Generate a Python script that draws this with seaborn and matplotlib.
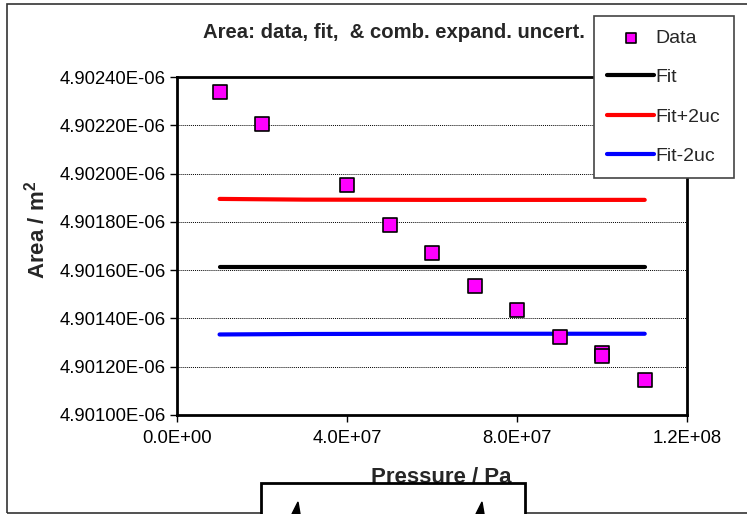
import matplotlib
matplotlib.use("Agg")
import matplotlib.pyplot as plt
import seaborn as sns
import pandas as pd
from matplotlib.patches import Rectangle, Polygon
from matplotlib.ticker import FuncFormatter, MultipleLocator

# data
pressure = [1e7, 2e7, 4e7, 5e7, 6e7, 7e7, 8e7, 9e7, 1e8, 1e8, 1.1e8]
area = [4.902338e-06, 4.902205e-06, 4.901953e-06, 4.901787e-06, 4.901671e-06,
        4.901535e-06, 4.901435e-06, 4.901323e-06, 4.901255e-06, 4.901243e-06,
        4.901145e-06]

fit_pressure = [1e7, 3e7, 6e7, 1.1e8]
fit = [4.901613e-06, 4.901613e-06, 4.901613e-06, 4.901613e-06]
fit_plus = [4.901895e-06, 4.901892e-06, 4.901891e-06, 4.901891e-06]
fit_minus = [4.901333e-06, 4.901335e-06, 4.901336e-06, 4.901336e-06]

sns.set_style("white")
plt.rcParams["font.family"] = ["Liberation Sans", "DejaVu Sans"]
plt.rcParams["mathtext.default"] = "regular"

fig = plt.figure(figsize=(7.47, 5.14), dpi=100)
ax = fig.add_axes([0.237, 0.193, 0.683, 0.657])

df_fit = pd.DataFrame({"p": fit_pressure, "fit": fit, "plus": fit_plus, "minus": fit_minus})
df_data = pd.DataFrame({"p": pressure, "area": area})

sns.scatterplot(data=df_data, x="p", y="area", marker="s", s=110, color="#FF00FF",
                edgecolor="black", linewidth=1.2, ax=ax, label="Data", zorder=5)
line_kw = dict(lw=3, ax=ax, solid_capstyle="round")
sns.lineplot(data=df_fit, x="p", y="fit", color="black", label="Fit", **line_kw)
sns.lineplot(data=df_fit, x="p", y="plus", color="#FF0000", label="Fit+2uc", **line_kw)
sns.lineplot(data=df_fit, x="p", y="minus", color="#0000FF", label="Fit-2uc", **line_kw)

ax.set_xlim(0, 1.2e8)
ax.set_ylim(4.901e-06, 4.9024e-06)
ax.xaxis.set_major_locator(MultipleLocator(4e7))
ax.yaxis.set_major_locator(MultipleLocator(2e-10))
ax.xaxis.set_major_formatter(FuncFormatter(lambda v, p: f"{v:.1E}"))
ax.yaxis.set_major_formatter(FuncFormatter(lambda v, p: f"{v:.5E}"))
ax.tick_params(axis="both", labelsize=13.3, direction="out", length=5, width=1,
               left=True, bottom=True, colors="black")
ax.tick_params(axis="x", pad=6)
ax.tick_params(axis="y", pad=3)
ax.yaxis.grid(True, linestyle=(0, (1, 1)), color="black", linewidth=0.7)
for s in ax.spines.values():
    s.set_color("black")
    s.set_linewidth(2)

fig.text(393.5 / 747, 1 - 33 / 514, "Area: data, fit,  & comb. expand. uncert.",
         fontsize=14.6, fontweight="bold", ha="center", va="center")
ax.set_xlabel("Pressure / Pa", fontsize=16, fontweight="bold")
ax.set_ylabel("Area / m$^2$", fontsize=16, fontweight="bold")
ax.xaxis.set_label_coords(0.518, -0.154)
ax.yaxis.set_label_coords(-0.25, 0.547)

leg = ax.legend(loc="upper left", bbox_to_anchor=(594 / 747, 1 - 16 / 514),
                bbox_transform=fig.transFigure, fontsize=14, frameon=True,
                fancybox=False, framealpha=1, edgecolor="#444444",
                handlelength=2.4, handletextpad=0.1, labelspacing=1.12,
                borderpad=0.68, borderaxespad=0, markerscale=0.7)
leg.get_frame().set_linewidth(1.2)
leg.set_zorder(10)

# outer chart border and the stray box at the bottom of the picture
fig.patches.append(Rectangle((7 / 747, 1 / 514), 2, 509 / 514, transform=fig.transFigure,
                             fill=False, edgecolor="#333333", lw=1.2))
fig.patches.append(Rectangle((261 / 747, -0.1), 264 / 747, 0.1 + 31 / 514,
                             transform=fig.transFigure, facecolor="white",
                             edgecolor="black", lw=2))
for cx in (298, 482):
    fig.patches.append(Polygon([((cx - 6) / 747, 0), ((cx + 2) / 747, 0),
                                (cx / 747, 12 / 514)], closed=True,
                               transform=fig.transFigure, color="black"))

fig.savefig("out.png", dpi=100)
